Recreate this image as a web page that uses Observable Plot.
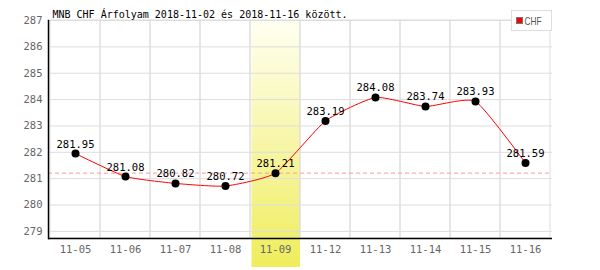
<!DOCTYPE html>
<html>
<head>
<meta charset="utf-8">
<script src="https://cdn.jsdelivr.net/npm/d3@7"></script>
<script src="https://cdn.jsdelivr.net/npm/@observablehq/plot@0.6"></script>
<style>
  html, body { margin: 0; padding: 0; background: #fff; }
  #chart { position: relative; width: 600px; height: 270px; }
</style>
</head>
<body>
<div id="chart"></div>
<script>
const dates = ["11-05","11-06","11-07","11-08","11-09","11-12","11-13","11-14","11-15","11-16"];
const rates = [281.95, 281.08, 280.82, 280.72, 281.21, 283.19, 284.08, 283.74, 283.93, 281.59];
const yTicks = [279, 280, 281, 282, 283, 284, 285, 286, 287];
const yDomain = [278.73, 287];
const highlightDate = ["11-09"];
const refLevel = [281.21];
const titleText = ["MNB CHF Árfolyam 2018-11-02 és 2018-11-16 között."];
const seriesName = "CHF";

const data = dates.map((d, i) => ({date: d, rate: rates[i]}));
const mono = "DejaVu Sans Mono, monospace";

const plot = Plot.plot({
  width: 600,
  height: 270,
  marginLeft: 48,
  marginRight: 48,
  marginTop: 20,
  marginBottom: 32,
  style: {fontFamily: mono, fontSize: "10px", color: "#666", background: "#fff", overflow: "visible"},
  x: {domain: dates, padding: 0, label: null},
  y: {domain: yDomain, label: null},
  marks: [
    Plot.cell(highlightDate, {x: d => d, fill: "url(#hlgrad)", insetBottom: -29, insetLeft: 1.5}),
    Plot.ruleY(yTicks, {stroke: "#ddd", strokeWidth: 1}),
    Plot.cell(dates, {x: d => d, fill: "none", stroke: "#ddd", strokeWidth: 1}),
    Plot.ruleY(refLevel, {stroke: "#ff9999", strokeDasharray: "4,3", strokeWidth: 1}),
    Plot.line(data, {x: "date", y: "rate", stroke: "#ff0000", strokeWidth: 1, curve: "cardinal", tension: 0.5}),
    Plot.dot(data, {x: "date", y: "rate", r: 4, fill: "#000", stroke: "none"}),
    Plot.text(data, {x: "date", y: "rate", text: d => d.rate.toFixed(2), dy: -6, lineAnchor: "bottom", fill: "#000", fontSize: 10.5, fontFamily: mono}),
    Plot.axisX({tickSize: 0, tickPadding: 7, label: null, fill: "#666", fontSize: 10.5}),
    Plot.axisY({ticks: yTicks, tickSize: 0, tickPadding: 6, label: null, tickFormat: d => String(d), fill: "#666", fontSize: 10.5}),
    Plot.ruleY([yDomain[0]], {stroke: "#000", strokeWidth: 1.5}),
    Plot.frame({anchor: "left", stroke: "#000", strokeWidth: 1.5}),
    Plot.text(titleText, {frameAnchor: "top-left", dx: 4, dy: -3, lineAnchor: "bottom", textAnchor: "start", fill: "#000", fontSize: 10, fontFamily: mono})
  ]
});

// gradient definition for highlight
const svg = d3.select(plot);
const defs = svg.insert("defs", ":first-child");
const grad = defs.append("linearGradient").attr("id", "hlgrad")
  .attr("x1", 0).attr("y1", 0).attr("x2", 0).attr("y2", 1);
grad.append("stop").attr("offset", "0%").attr("stop-color", "#fffff2");
grad.append("stop").attr("offset", "100%").attr("stop-color", "#efed5c");

// legend
const lg = svg.append("g").attr("class", "legend").attr("text-anchor", "start");
lg.append("rect").attr("x", 511.5).attr("y", 10.5).attr("width", 40).attr("height", 20)
  .attr("fill", "#fff").attr("stroke", "#ddd");
lg.append("rect").attr("x", 516.5).attr("y", 17.5).attr("width", 6).attr("height", 6)
  .attr("fill", "#ff0000").attr("stroke", "#777");
lg.append("text").attr("x", 524.5).attr("y", 25).attr("fill", "#555")
  .attr("text-anchor", "start")
  .attr("font-family", "Liberation Sans, Arial, sans-serif").attr("font-size", 11)
  .attr("textLength", 17).attr("lengthAdjust", "spacingAndGlyphs").text(seriesName);

document.getElementById("chart").appendChild(plot);
</script>
</body>
</html>
